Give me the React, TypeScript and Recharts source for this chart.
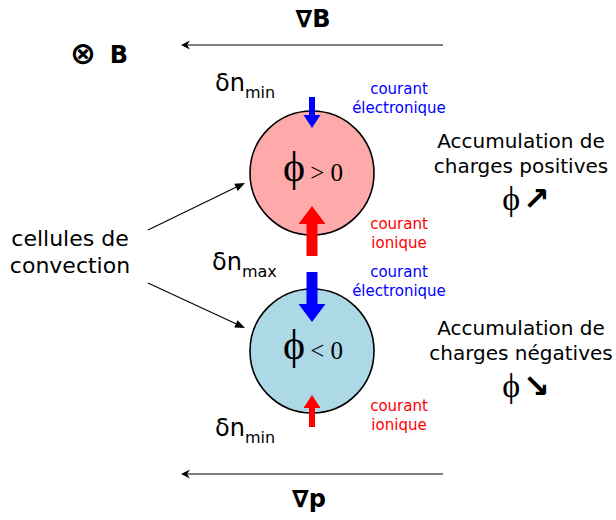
import { ScatterChart, Scatter, XAxis, YAxis } from 'recharts';

const W = 616;
const H = 520;
const SANS = '"DejaVu Sans", sans-serif';
const SERIF = '"Liberation Serif", "DejaVu Serif", serif';

// diagram coordinates are pixel units of the picture (y grows downward)
const cells = [
  { x: 312, y: 173, sign: '>' },
  { x: 312, y: 351, sign: '<' },
];
const gradientArrows = [
  [{ x: 443, y: 45 }, { x: 181, y: 45 }],
  [{ x: 443, y: 474 }, { x: 181, y: 474 }],
];
const gradientLabels = [
  { x: 313, y: 27, text: '∇B' },
  { x: 309, y: 507, text: '∇p' },
];
const fieldLabels = [{ x: 100, y: 63, symbol: '⊗', text: 'B' }];
const convectionArrows = [
  [{ x: 148, y: 230 }, { x: 245, y: 183 }],
  [{ x: 148, y: 283 }, { x: 245, y: 328 }],
];
const convectionLabels = [{ x: 70, y: 246, lines: ['cellules de', 'convection'] }];
const densityLabels = [
  { x: 215, y: 91, sub: 'min' },
  { x: 212, y: 270, sub: 'max' },
  { x: 215, y: 436, sub: 'min' },
];
const electronArrows = [
  [{ x: 312, y: 97 }, { x: 312, y: 128 }],
  [{ x: 312, y: 272 }, { x: 312, y: 322 }],
];
const ionArrows = [
  [{ x: 312, y: 256 }, { x: 312, y: 206 }],
  [{ x: 312, y: 427 }, { x: 312, y: 395 }],
];
const electronLabels = [
  { x: 399, y: 94, lines: ['courant', 'électronique'] },
  { x: 399, y: 277, lines: ['courant', 'électronique'] },
];
const ionLabels = [
  { x: 399, y: 229, lines: ['courant', 'ionique'] },
  { x: 399, y: 411, lines: ['courant', 'ionique'] },
];
const accumulationLabels = [
  { x: 521, y: 148, lines: ['Accumulation de', 'charges positives'], trend: '↗' },
  { x: 521, y: 335, lines: ['Accumulation de', 'charges négatives'], trend: '↘' },
];

const CELL_R = 62;
const SMALL = { shaft: 6, head: 17, headLen: 13 };
const BIG = { shaft: 11, head: 27, headLen: 18 };
const electronSizes = [SMALL, BIG];
const ionSizes = [BIG, SMALL];

function unit(x1: number, y1: number, x2: number, y2: number) {
  const dx = x2 - x1;
  const dy = y2 - y1;
  const len = Math.hypot(dx, dy) || 1;
  return { ux: dx / len, uy: dy / len, nx: -dy / len, ny: dx / len };
}

const toPts = (pts: number[][]) => pts.map((q) => q.join(',')).join(' ');
const NoDot = () => <g />;

// line shapes get the scaled points of the series
const thinArrow = (headLen: number, headW: number, notch: number) => (p: any) => {
  const [a, b] = p.points;
  const { ux, uy, nx, ny } = unit(a.x, a.y, b.x, b.y);
  const bx = b.x - ux * headLen;
  const by = b.y - uy * headLen;
  const pts = [
    [b.x, b.y],
    [bx + (nx * headW) / 2, by + (ny * headW) / 2],
    [bx + ux * notch, by + uy * notch],
    [bx - (nx * headW) / 2, by - (ny * headW) / 2],
  ];
  return (
    <g>
      <line x1={a.x} y1={a.y} x2={bx + ux * notch} y2={by + uy * notch} stroke="#000" strokeWidth={1.1} />
      <polygon points={toPts(pts)} fill="#000" />
    </g>
  );
};

const blockArrow = (size: { shaft: number; head: number; headLen: number }, color: string) => (p: any) => {
  const [a, b] = p.points;
  const { ux, uy, nx, ny } = unit(a.x, a.y, b.x, b.y);
  const bx = b.x - ux * size.headLen;
  const by = b.y - uy * size.headLen;
  const s = size.shaft / 2;
  const h = size.head / 2;
  const pts = [
    [a.x + nx * s, a.y + ny * s],
    [bx + nx * s, by + ny * s],
    [bx + nx * h, by + ny * h],
    [b.x, b.y],
    [bx - nx * h, by - ny * h],
    [bx - nx * s, by - ny * s],
    [a.x - nx * s, a.y - ny * s],
  ];
  return <polygon points={toPts(pts)} fill={color} />;
};

const CellShape = (fill: string) => (p: any) => (
  <g>
    <circle cx={p.cx} cy={p.cy} r={CELL_R} fill={fill} stroke="#000" strokeWidth={1.6} />
    <text x={p.cx + 1} y={p.cy + 8} textAnchor="middle" fontFamily={SERIF} fill="#000">
      <tspan fontSize={42}>ϕ</tspan>
      <tspan fontSize={25} dx={5}>{p.payload.sign} 0</tspan>
    </text>
  </g>
);

const LinesShape = (color: string, size: number, lineH: number) => (p: any) => (
  <text x={p.cx} y={p.cy} textAnchor="middle" fontFamily={SANS} fontSize={size} fill={color}>
    {p.payload.lines.map((l: string, i: number) => (
      <tspan key={i} x={p.cx} dy={i === 0 ? 0 : lineH}>
        {l}
      </tspan>
    ))}
  </text>
);

const AccumulationShape = (p: any) => (
  <g>
    <text x={p.cx} y={p.cy} textAnchor="middle" fontFamily={SANS} fontSize={20} fill="#000">
      {p.payload.lines.map((l: string, i: number) => (
        <tspan key={i} x={p.cx} dy={i === 0 ? 0 : 25}>
          {l}
        </tspan>
      ))}
    </text>
    <text x={p.cx + 5} y={p.cy + 62} textAnchor="middle" fill="#000">
      <tspan fontFamily={SERIF} fontSize={34}>ϕ</tspan>
      <tspan fontFamily={SANS} fontWeight="bold" fontSize={32} dx={3}>{p.payload.trend}</tspan>
    </text>
  </g>
);

const DensityShape = (p: any) => (
  <text x={p.cx} y={p.cy} fontFamily={SANS} fill="#000">
    <tspan fontSize={24}>δn</tspan>
    <tspan fontSize={16} dy={7}>{p.payload.sub}</tspan>
  </text>
);

const BoldLabel = (p: any) => (
  <text x={p.cx} y={p.cy} textAnchor="middle" fontFamily={SANS} fontWeight="bold" fontSize={24} fill="#000">
    {p.payload.text}
  </text>
);

const FieldShape = (p: any) => (
  <g>
    <text x={p.cx - 17} y={p.cy + 1} textAnchor="middle" fontFamily={SANS} fontWeight="bold" fontSize={31} fill="#000">
      {p.payload.symbol}
    </text>
    <text x={p.cx + 19} y={p.cy} textAnchor="middle" fontFamily={SANS} fontWeight="bold" fontSize={24} fill="#000">
      {p.payload.text}
    </text>
  </g>
);

export default function App() {
  return (
    <div style={{ position: 'absolute', left: 0, top: 0, width: W, height: H, background: '#fff' }}>
      <ScatterChart width={W} height={H} margin={{ top: 0, right: 0, bottom: 0, left: 0 }}>
        <XAxis type="number" dataKey="x" domain={[0, W]} hide />
        <YAxis type="number" dataKey="y" domain={[0, H]} reversed hide />

        {gradientArrows.map((d, i) => (
          <Scatter key={`g${i}`} data={d} shape={NoDot} line={thinArrow(9, 9, 3)} isAnimationActive={false} />
        ))}
        {convectionArrows.map((d, i) => (
          <Scatter key={`c${i}`} data={d} shape={NoDot} line={thinArrow(10, 8, 0)} isAnimationActive={false} />
        ))}

        <Scatter data={cells.slice(0, 1)} shape={CellShape('#ffaaaa')} isAnimationActive={false} />
        <Scatter data={cells.slice(1)} shape={CellShape('#add8e6')} isAnimationActive={false} />

        {electronArrows.map((d, i) => (
          <Scatter key={`e${i}`} data={d} shape={NoDot} line={blockArrow(electronSizes[i], '#0000ff')} isAnimationActive={false} />
        ))}
        {ionArrows.map((d, i) => (
          <Scatter key={`i${i}`} data={d} shape={NoDot} line={blockArrow(ionSizes[i], '#ff0000')} isAnimationActive={false} />
        ))}

        <Scatter data={gradientLabels} shape={BoldLabel} isAnimationActive={false} />
        <Scatter data={fieldLabels} shape={FieldShape} isAnimationActive={false} />
        <Scatter data={convectionLabels} shape={LinesShape('#000', 22, 27)} isAnimationActive={false} />
        <Scatter data={densityLabels} shape={DensityShape} isAnimationActive={false} />
        <Scatter data={electronLabels} shape={LinesShape('#0000ff', 15, 19)} isAnimationActive={false} />
        <Scatter data={ionLabels} shape={LinesShape('#ff0000', 15, 19)} isAnimationActive={false} />
        <Scatter data={accumulationLabels} shape={AccumulationShape} isAnimationActive={false} />
      </ScatterChart>
    </div>
  );
}
